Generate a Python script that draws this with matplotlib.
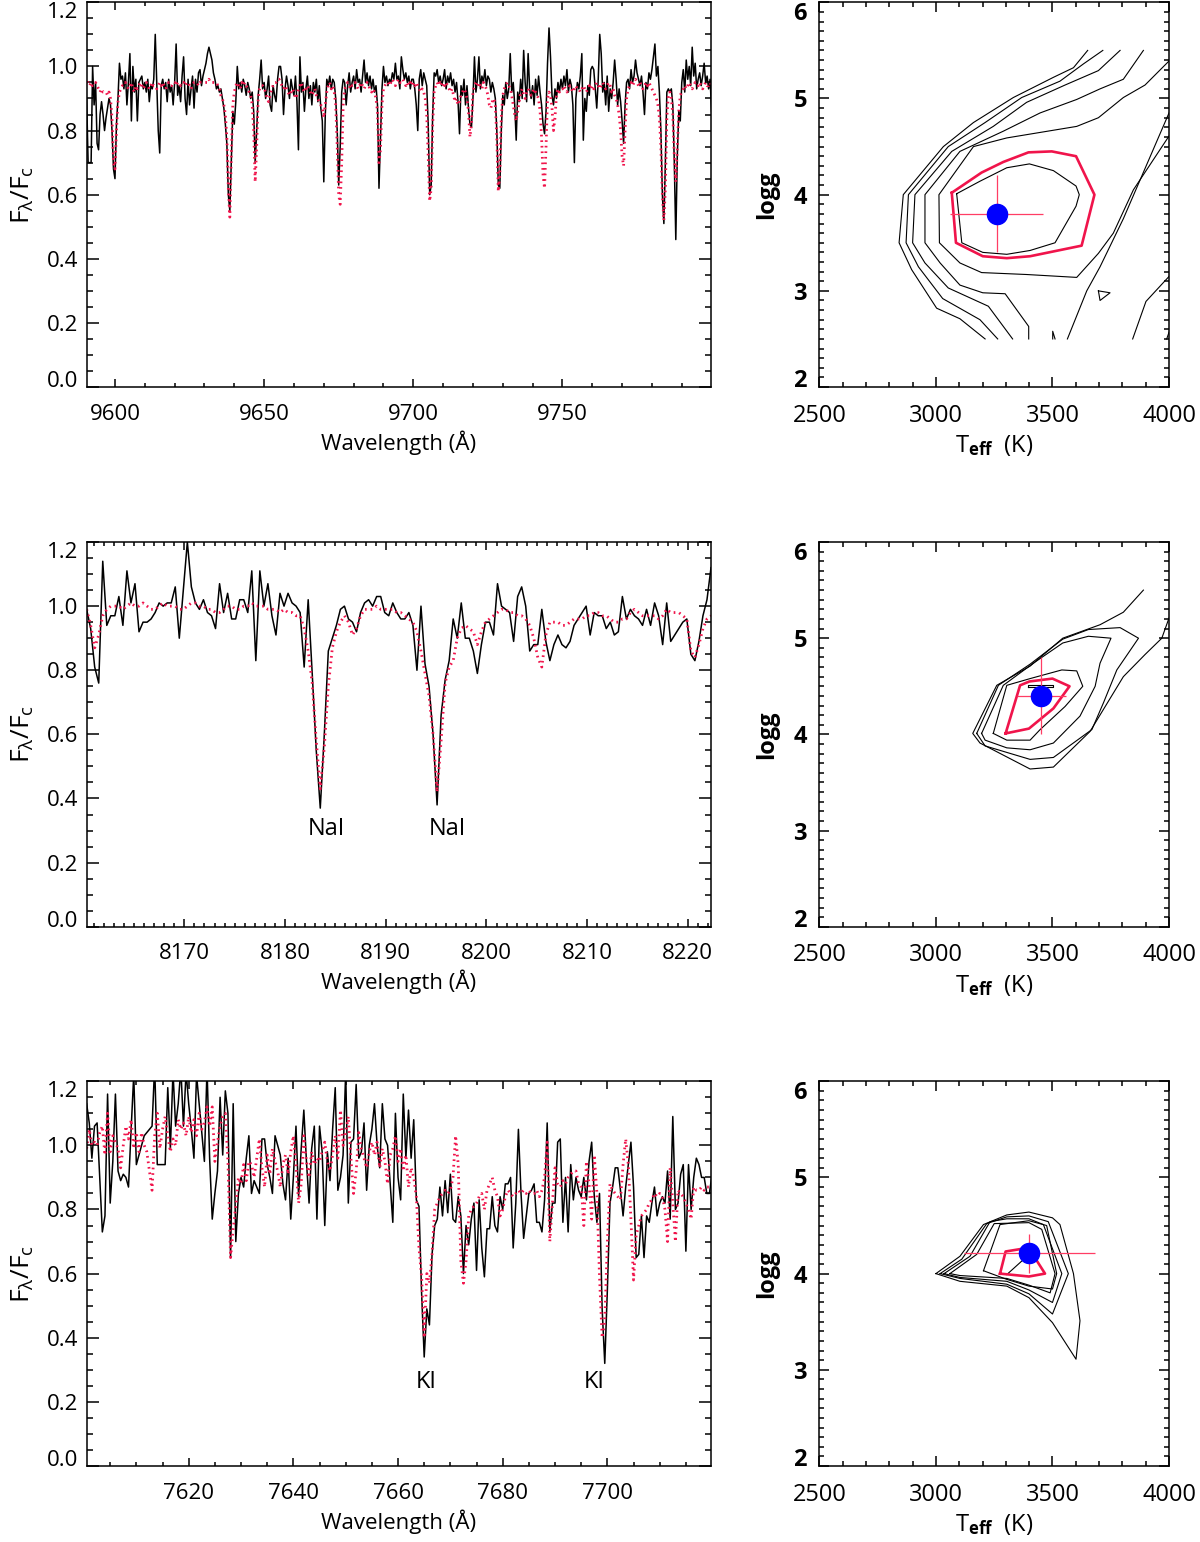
import numpy as np
import matplotlib
matplotlib.use("Agg")
import matplotlib.pyplot as plt
from matplotlib.ticker import MultipleLocator, FormatStrFormatter

plt.rcParams["font.family"] = ["Open Sans", "DejaVu Sans"]
plt.rcParams["mathtext.fontset"] = "custom"
plt.rcParams["mathtext.rm"] = "Open Sans"
plt.rcParams["mathtext.it"] = "Open Sans"
plt.rcParams["mathtext.bf"] = "Open Sans:bold"

RED = "#f0144b"
ERR_RED = "#ff3d64"

# ---- spectra: fluxes in percent of continuum, on a regular wavelength grid ----
w1_start, w1_step = 9590.5, 0.5
flux1_obs = [
    90, 70, 70, 70, 100, 88, 95, 76, 74, 85, 89, 85, 80, 84, 87, 90, 88, 80, 68,
    65, 82, 90, 101, 96, 97, 93, 98, 88, 95, 104, 83, 100, 92, 96, 83, 95, 96, 97, 93,
    95, 92, 96, 89, 94, 93, 96, 110, 95, 80, 73, 94, 96, 93, 95, 89, 96, 92, 94, 88,
    95, 107, 91, 94, 89, 97, 103, 90, 85, 96, 88, 93, 97, 87, 96, 92, 98, 99, 94, 97,
    99, 101, 104, 106, 104, 102, 98, 96, 93, 94, 92, 93, 90, 87, 82, 76, 60, 55, 70, 86,
    82, 89, 100, 93, 95, 92, 96, 94, 91, 95, 93, 90, 92, 86, 70, 80, 91, 96, 102, 93,
    95, 90, 93, 97, 88, 86, 94, 91, 89, 96, 100, 100, 96, 85, 93, 97, 94, 90, 96, 93,
    91, 97, 89, 74, 103, 92, 95, 86, 93, 97, 90, 94, 88, 95, 92, 96, 89, 94, 87, 83,
    64, 85, 96, 94, 97, 93, 96, 95, 90, 80, 63, 75, 92, 96, 95, 88, 94, 98, 92, 95,
    97, 93, 99, 95, 96, 92, 97, 102, 95, 98, 94, 97, 93, 96, 92, 94, 88, 62, 78, 93,
    100, 95, 97, 94, 96, 95, 98, 96, 101, 96, 97, 93, 103, 99, 96, 98, 95, 97, 93, 96,
    96, 93, 88, 80, 96, 99, 94, 98, 96, 94, 82, 60, 63, 85, 98, 97, 99, 95, 97, 94,
    96, 99, 93, 97, 95, 98, 94, 96, 92, 95, 89, 79, 94, 91, 96, 88, 94, 87, 82, 81,
    90, 103, 92, 96, 103, 93, 97, 95, 99, 94, 97, 96, 92, 95, 93, 90, 80, 63, 62, 80,
    91, 88, 95, 90, 93, 104, 92, 95, 88, 77, 92, 89, 96, 90, 105, 95, 89, 104, 93, 90,
    94, 88, 96, 91, 97, 92, 88, 82, 79, 86, 101, 112, 103, 91, 88, 93, 90, 95, 92, 96,
    93, 97, 94, 99, 92, 96, 94, 88, 70, 90, 95, 93, 97, 104, 77, 90, 86, 94, 91, 99,
    100, 99, 93, 87, 96, 110, 104, 92, 95, 88, 97, 86, 93, 90, 95, 102, 96, 88, 93, 89,
    83, 76, 88, 95, 96, 93, 99, 95, 97, 102, 98, 96, 94, 97, 92, 85, 95, 93, 98, 96,
    99, 103, 107, 97, 100, 92, 80, 60, 51, 70, 92, 93, 92, 93, 88, 70, 46, 72, 86, 83,
    95, 99, 92, 102, 96, 100, 94, 106, 97, 101, 93, 96, 98, 94, 97, 101, 95, 97, 93, 96, 86,
]
flux1_mod = [
    95, 95, 94, 95, 94, 94, 95, 94, 93, 92, 93, 92, 92, 92, 91, 92, 90, 84, 70,
    68, 80, 89, 92, 93, 94, 94, 95, 94, 93, 94, 95, 93, 92, 94, 93, 94, 95, 94, 93,
    94, 95, 94, 93, 94, 95, 94, 94, 93, 94, 95, 94, 95, 94, 93, 94, 95, 94, 94, 95,
    95, 94, 95, 95, 94, 95, 95, 94, 95, 95, 94, 93, 94, 95, 95, 95, 94, 95, 95, 95,
    95, 95, 95, 96, 95, 95, 95, 95, 95, 94, 93, 91, 90, 88, 85, 78, 62, 53, 72, 88,
    92, 94, 95, 94, 93, 95, 94, 95, 94, 93, 92, 91, 88, 80, 64, 75, 90, 93, 94, 94,
    93, 92, 90, 89, 91, 93, 94, 95, 95, 96, 96, 95, 94, 93, 94, 93, 92, 91, 92, 93,
    92, 90, 91, 93, 94, 95, 93, 92, 93, 94, 93, 92, 91, 92, 93, 91, 90, 89, 88, 87,
    84, 88, 92, 94, 95, 93, 94, 92, 88, 75, 60, 57, 70, 88, 93, 94, 95, 94, 93, 94,
    94, 95, 94, 93, 94, 95, 94, 93, 94, 95, 94, 93, 92, 93, 92, 90, 86, 70, 74, 88,
    93, 94, 95, 95, 94, 95, 96, 95, 94, 95, 96, 95, 95, 96, 95, 94, 95, 94, 95, 94,
    95, 94, 95, 94, 93, 92, 93, 92, 90, 85, 72, 58, 62, 82, 92, 94, 95, 94, 95, 94,
    95, 94, 95, 94, 93, 92, 93, 91, 89, 90, 88, 89, 91, 92, 93, 92, 90, 86, 78, 82,
    92, 94, 95, 94, 95, 94, 93, 95, 94, 93, 91, 88, 87, 89, 90, 88, 78, 61, 66, 84,
    91, 93, 94, 95, 94, 93, 91, 88, 85, 83, 86, 89, 92, 93, 91, 90, 92, 93, 92, 91,
    92, 93, 92, 91, 90, 86, 78, 66, 62, 75, 90, 92, 91, 87, 80, 84, 91, 93, 92, 93,
    93, 94, 93, 92, 93, 94, 93, 92, 93, 94, 93, 93, 92, 93, 94, 93, 92, 93, 94, 93,
    94, 93, 94, 95, 94, 93, 94, 95, 94, 93, 94, 95, 94, 92, 93, 91, 90, 88, 85, 80,
    72, 69, 80, 90, 93, 94, 95, 94, 95, 96, 95, 94, 95, 94, 93, 94, 95, 94, 95, 94,
    93, 92, 91, 90, 88, 84, 75, 60, 52, 62, 84, 91, 92, 90, 85, 72, 64, 74, 86, 91,
    92, 93, 94, 93, 94, 95, 94, 93, 94, 95, 94, 94, 95, 94, 93, 94, 95, 94, 94, 95, 94,
]

w2_start, w2_step = 8160.3, 0.4
flux2_obs = [
    99, 93, 81, 76, 114, 94, 97, 97, 103, 94, 111, 101, 107, 92, 95, 95, 96, 98, 101, 100,
    101, 101, 106, 90, 105, 120, 106, 101, 99, 102, 98, 97, 93, 107, 98, 104, 96, 96, 102, 102,
    98, 111, 83, 111, 100, 107, 97, 91, 104, 100, 104, 101, 100, 98, 81, 102, 79, 55, 37, 60,
    86, 90, 94, 99, 100, 96, 95, 92, 98, 101, 102, 100, 103, 103, 98, 97, 101, 98, 96, 96,
    98, 94, 80, 100, 82, 75, 60, 38, 66, 77, 83, 96, 90, 101, 90, 90, 86, 79, 88, 95,
    95, 91, 107, 100, 99, 98, 89, 103, 106, 100, 86, 88, 88, 99, 89, 83, 88, 91, 88, 87,
    89, 94, 96, 98, 100, 91, 98, 97, 97, 93, 95, 91, 92, 103, 96, 99, 97, 96, 94, 99,
    94, 101, 97, 88, 101, 89, 91, 93, 95, 96, 85, 83, 89, 97, 102, 112,
]
flux2_mod = [
    99, 94, 87, 91, 97, 99, 100, 100, 100, 99, 100, 101, 100, 100, 101, 100, 99, 99, 100, 101,
    100, 100, 100, 99, 99, 100, 101, 101, 100, 100, 99, 99, 98, 98, 99, 100, 100, 99, 99, 100,
    100, 101, 100, 100, 100, 99, 99, 99, 98, 99, 98, 98, 97, 97, 93, 86, 76, 58, 43, 56,
    75, 87, 92, 95, 97, 95, 91, 93, 97, 99, 99, 99, 100, 99, 99, 99, 99, 98, 98, 97,
    96, 95, 92, 86, 79, 72, 60, 42, 58, 76, 81, 83, 90, 93, 94, 93, 92, 88, 92, 95,
    96, 97, 98, 99, 99, 98, 98, 97, 97, 96, 94, 90, 84, 81, 91, 95, 95, 95, 94, 94,
    95, 96, 96, 96, 97, 97, 98, 98, 97, 97, 96, 95, 95, 96, 96, 98, 99, 98, 97, 97,
    97, 97, 96, 97, 99, 98, 98, 98, 97, 96, 86, 84, 88, 93, 96, 97,
]

w3_start, w3_step = 7600.5, 0.5
flux3_obs = [
    113, 107, 96, 106, 107, 90, 73, 78, 116, 82, 95, 116, 92, 89, 91, 90, 87, 105, 122, 94,
    97, 100, 103, 104, 105, 106, 125, 94, 94, 94, 94, 118, 99, 123, 106, 113, 124, 106, 123, 113,
    105, 96, 122, 113, 104, 95, 124, 96, 77, 85, 92, 115, 97, 117, 110, 65, 113, 70, 85, 90,
    87, 96, 103, 85, 89, 87, 85, 102, 102, 94, 90, 85, 103, 100, 97, 88, 83, 96, 77, 90,
    106, 84, 99, 111, 95, 82, 99, 106, 77, 106, 98, 75, 98, 89, 105, 118, 86, 90, 97, 123,
    82, 101, 102, 119, 96, 98, 107, 86, 100, 105, 113, 100, 93, 113, 102, 100, 88, 76, 110, 90,
    83, 116, 96, 111, 96, 108, 83, 81, 54, 34, 49, 44, 66, 75, 77, 87, 78, 89, 79, 91,
    77, 76, 84, 78, 60, 75, 69, 77, 82, 61, 83, 68, 59, 74, 74, 84, 75, 73, 84, 80,
    88, 88, 90, 68, 82, 105, 85, 71, 78, 85, 86, 88, 76, 76, 73, 83, 107, 73, 82, 82,
    101, 102, 76, 90, 73, 94, 83, 90, 86, 84, 90, 83, 95, 101, 84, 76, 85, 49, 32, 55,
    82, 87, 93, 93, 86, 78, 87, 94, 101, 87, 65, 66, 78, 65, 78, 76, 82, 87, 78, 82,
    84, 82, 92, 77, 109, 80, 82, 91, 94, 67, 94, 80, 90, 96, 94, 90, 90, 85, 85, 91,
]
flux3_mod = [
    99, 105, 100, 101, 100, 104, 106, 97, 110, 98, 103, 101, 99, 93, 100, 106, 102, 108, 99, 104,
    98, 104, 100, 98, 92, 86, 103, 110, 99, 105, 109, 103, 98, 102, 100, 108, 105, 107, 103, 109,
    104, 108, 103, 110, 105, 107, 112, 106, 112, 95, 101, 106, 109, 110, 95, 65, 74, 81, 90, 88,
    94, 89, 95, 94, 90, 96, 102, 93, 87, 97, 91, 99, 95, 92, 87, 94, 97, 91, 98, 103,
    94, 82, 88, 103, 95, 90, 98, 94, 96, 95, 98, 101, 95, 92, 97, 103, 96, 111, 100, 104,
    109, 96, 85, 92, 104, 99, 96, 93, 98, 101, 97, 101, 93, 99, 95, 88, 97, 99, 103, 95,
    99, 92, 97, 87, 93, 90, 84, 68, 59, 40, 60, 57, 66, 80, 82, 84, 85, 86, 85, 86,
    90, 103, 94, 64, 57, 64, 78, 80, 81, 82, 84, 85, 80, 86, 88, 90, 86, 84, 78, 80,
    84, 86, 85, 84, 85, 86, 85, 86, 85, 86, 85, 85, 86, 84, 86, 90, 101, 70, 82, 93,
    88, 87, 89, 88, 90, 91, 92, 92, 88, 87, 75, 95, 88, 77, 97, 85, 59, 40, 45, 70,
    88, 86, 85, 84, 83, 94, 102, 94, 77, 58, 72, 75, 78, 79, 80, 82, 83, 85, 84, 85,
    84, 80, 70, 93, 82, 70, 86, 85, 84, 82, 80, 77, 87, 86, 86, 87, 86, 87, 87, 87,
]

spec_xlims = [(9590.5, 9799.8), (8160.3, 8222.3), (7600.5, 7719.8)]
spec_major = [50, 10, 20]
spec_minor = [10, 1, 5]
spec_yticks = [0.0, 0.2, 0.4, 0.6, 0.8, 1.0, 1.2]
line_labels = [[], [("NaI", 8184.1, 0.306), ("NaI", 8196.1, 0.306)],
               [("KI", 7665.3, 0.262), ("KI", 7697.4, 0.262)]]

# ---- chi2 contour maps (Teff [K], logg) traced as polylines ----
top_red = [(3068, 4.02), (3086, 3.50), (3201, 3.36), (3304, 3.34), (3404, 3.36), (3625, 3.47),
           (3680, 4.00), (3601, 4.40), (3497, 4.45), (3397, 4.44), (3289, 4.34), (3196, 4.23),
           (3068, 4.02)]
top_black = [
    [(3089, 4.01), (3111, 3.50), (3201, 3.40), (3304, 3.38), (3404, 3.42), (3511, 3.50),
     (3601, 3.88), (3615, 4.00), (3601, 4.09), (3504, 4.25), (3401, 4.32), (3304, 4.28),
     (3189, 4.14), (3089, 4.01)],
    [(3651, 5.50), (3590, 5.32), (3504, 5.22), (3332, 5.01), (3161, 4.75), (3032, 4.50),
     (2860, 4.00), (2842, 3.50), (2896, 3.22), (3003, 2.82), (3103, 2.71), (3211, 2.50)],
    [(3716, 5.50), (3633, 5.36), (3532, 5.18), (3368, 5.01), (3211, 4.75), (3053, 4.50),
     (2882, 4.00), (2872, 3.50), (2925, 3.25), (3029, 2.92), (3189, 2.70), (3265, 2.50)],
    [(3790, 5.50), (3697, 5.29), (3554, 5.14), (3389, 4.96), (3246, 4.71), (3068, 4.45),
     (2910, 4.00), (2900, 3.50), (2953, 3.29), (3053, 3.03), (3225, 2.84), (3329, 2.50)],
    [(3890, 5.50), (3804, 5.20), (3704, 5.10), (3604, 4.99), (3447, 4.85), (3289, 4.66),
     (3103, 4.45), (2953, 4.00), (2953, 3.50), (3018, 3.29), (3103, 3.06), (3201, 2.98),
     (3297, 2.97), (3398, 2.63), (3398, 2.50)],
    [(4000, 5.39), (3897, 5.14), (3804, 5.01), (3697, 4.80), (3604, 4.71), (3304, 4.59),
     (3161, 4.50), (3013, 4.00), (3015, 3.50), (3103, 3.29), (3196, 3.19), (3389, 3.17),
     (3604, 3.14), (3697, 3.39), (3761, 3.60), (3847, 4.05), (4000, 4.61)],
    [(3564, 2.50), (3647, 3.00), (3704, 3.25), (3804, 3.75), (4000, 4.85)],
    [(3844, 2.50), (3901, 2.89), (4000, 3.15)],
    [(3697, 3.00), (3747, 2.98), (3704, 2.90), (3697, 3.00)],
    [(3501, 2.50), (3501, 2.58), (3511, 2.50)],
    [(3990, 2.50), (4000, 2.57)],
]

mid_red = [(3299, 4.01), (3399, 4.06), (3504, 4.27), (3573, 4.50), (3500, 4.58), (3401, 4.55),
           (3361, 4.51), (3299, 4.01)]
mid_black = [
    [(3397, 4.49), (3397, 4.515), (3504, 4.515), (3504, 4.49), (3397, 4.49)],
    [(3246, 4.01), (3304, 4.51), (3404, 4.58), (3540, 4.67), (3604, 4.66), (3630, 4.50),
     (3554, 4.29), (3447, 4.05), (3404, 3.94), (3304, 3.94), (3246, 4.01)],
    [(3196, 4.01), (3289, 4.51), (3418, 4.74), (3544, 4.95), (3654, 5.02), (3751, 5.00),
     (3704, 4.74), (3683, 4.50), (3618, 4.19), (3504, 3.91), (3404, 3.84), (3304, 3.86),
     (3211, 3.94), (3196, 4.01)],
    [(3175, 4.01), (3268, 4.51), (3404, 4.73), (3544, 4.99), (3654, 5.09), (3790, 5.11),
     (3869, 5.00), (3776, 4.67), (3719, 4.33), (3669, 4.05), (3504, 3.76), (3404, 3.74),
     (3211, 3.88), (3175, 4.01)],
    [(4000, 5.21), (3969, 5.00), (3897, 4.83), (3804, 4.60), (3661, 4.03), (3504, 3.66),
     (3404, 3.64), (3189, 3.91), (3158, 4.01), (3261, 4.51), (3404, 4.71), (3544, 5.00),
     (3704, 5.14), (3804, 5.27), (3890, 5.50)],
]

low_red = [(3275, 4.00), (3299, 4.23), (3375, 4.26), (3418, 4.19), (3468, 4.00), (3399, 3.97),
           (3275, 4.00)]
low_black = [
    [(3304, 3.99), (3368, 4.13)],
    [(3204, 4.03), (3275, 4.51), (3399, 4.55), (3475, 4.50), (3518, 4.00), (3500, 3.84),
     (3399, 3.87), (3304, 3.94), (3204, 4.03)],
    [(3060, 4.00), (3175, 4.20), (3250, 4.52), (3399, 4.53), (3454, 4.46), (3511, 4.00),
     (3490, 3.80), (3399, 3.88), (3304, 3.95), (3103, 3.98), (3060, 4.00)],
    [(3035, 4.00), (3146, 4.18), (3232, 4.54), (3304, 4.57), (3399, 4.57), (3461, 4.51),
     (3540, 4.00), (3500, 3.70), (3399, 3.83), (3304, 3.92), (3103, 3.96), (3035, 4.00)],
    [(3018, 4.00), (3111, 4.15), (3218, 4.52), (3304, 4.59), (3399, 4.60), (3482, 4.54),
     (3568, 4.00), (3500, 3.58), (3399, 3.79), (3304, 3.89), (3103, 3.95), (3018, 4.00)],
    [(3000, 4.00), (3103, 4.18), (3204, 4.51), (3304, 4.61), (3399, 4.64), (3500, 4.58),
     (3532, 4.51), (3590, 4.00), (3618, 3.51), (3601, 3.11), (3500, 3.49), (3399, 3.75),
     (3304, 3.87), (3103, 3.92), (3000, 4.00)],
]

fit_teff = [3261, 3451, 3401]
fit_teff_err = [200, 105, 280]
fit_logg = [3.80, 4.40, 4.21]
fit_logg_err = [0.40, 0.40, 0.20]

grid_yticks = [2, 3, 4, 5, 6]
grid_ylabels = ["2", "3", "4", "5", "6"]

contour_reds = [top_red, mid_red, low_red]
contour_blacks = [top_black, mid_black, low_black]


def pull_in_end_labels(axis):
    # the end labels sit inside the frame, like the original plot
    ticks = axis.get_major_ticks()
    ticks[0].label1.set_verticalalignment("baseline")
    ticks[-1].label1.set_verticalalignment("top")


fig = plt.figure(figsize=(12, 15.42), dpi=100)
row_bottoms = [0.749, 0.399, 0.0493]
spectra = [
    (w1_start, w1_step, flux1_obs, flux1_mod),
    (w2_start, w2_step, flux2_obs, flux2_mod),
    (w3_start, w3_step, flux3_obs, flux3_mod),
]

for i, b in enumerate(row_bottoms):
    # spectrum panel
    ax = fig.add_axes([0.0722, b, 0.5203, 0.2495])
    start, step, obs, mod = spectra[i]
    wo = start + step * np.arange(len(obs))
    wm = start + step * np.arange(len(mod))
    ax.plot(wo, np.array(obs) / 100.0, color="black", lw=1.1)
    ax.plot(wm, np.array(mod) / 100.0, color=RED, lw=2.0, ls=(0, (0.6, 1.4)))
    for txt, x, y in line_labels[i]:
        ax.text(x, y, txt, ha="center", va="center", fontsize=17)
    ax.set_xlim(*spec_xlims[i])
    ax.set_ylim(0, 1.2)
    ax.xaxis.set_major_locator(MultipleLocator(spec_major[i]))
    ax.xaxis.set_minor_locator(MultipleLocator(spec_minor[i]))
    ax.set_yticks(spec_yticks)
    ax.yaxis.set_minor_locator(MultipleLocator(0.05))
    ax.yaxis.set_major_formatter(FormatStrFormatter("%.1f"))
    ax.tick_params(which="both", direction="in", top=True, right=True, width=1.1)
    ax.tick_params(axis="y", which="major", length=8.5, pad=6, labelsize=16)
    ax.tick_params(axis="y", which="minor", length=4.3)
    ax.tick_params(axis="x", which="major", length=5.8, pad=12, labelsize=16)
    ax.tick_params(axis="x", which="minor", length=2.9)
    for s in ax.spines.values():
        s.set_linewidth(1.1)
    ax.set_xlabel("Wavelength (Å)", fontsize=16, labelpad=4)
    ax.set_ylabel(r"F$_\lambda$/F$_{\rm c}$", fontsize=19, labelpad=8)
    pull_in_end_labels(ax.yaxis)

    # chi2 map panel
    cx = fig.add_axes([0.6828, b, 0.2914, 0.2495])
    for poly in contour_blacks[i]:
        t, g = zip(*poly)
        cx.plot(t, g, color="black", lw=0.8)
    t, g = zip(*contour_reds[i])
    cx.plot(t, g, color=RED, lw=1.9)
    cx.errorbar(fit_teff[i], fit_logg[i], xerr=fit_teff_err[i], yerr=fit_logg_err[i],
                fmt="none", ecolor=ERR_RED, elinewidth=0.9, capsize=0)
    cx.plot(fit_teff[i], fit_logg[i], "o", color="#0000ff", ms=14.5, mec="#0000ff")
    cx.set_xlim(2500, 4000)
    cx.set_ylim(2, 6)
    cx.xaxis.set_major_locator(MultipleLocator(500))
    cx.xaxis.set_minor_locator(MultipleLocator(100))
    cx.set_yticks(grid_yticks)
    cx.set_yticklabels(grid_ylabels, fontweight="bold")
    cx.yaxis.set_minor_locator(MultipleLocator(0.1))
    cx.tick_params(which="both", direction="in", top=True, right=True, width=1.1)
    cx.tick_params(which="major", length=7, labelsize=17)
    cx.tick_params(which="minor", length=3.5)
    cx.tick_params(axis="x", which="major", pad=12)
    cx.tick_params(axis="y", which="major", pad=9)
    for s in cx.spines.values():
        s.set_linewidth(1.1)
    cx.set_xlabel(r"T$_{\mathbf{eff}}$  (K)", fontsize=17, labelpad=4)
    cx.set_ylabel("logg", fontsize=17, fontweight="bold", labelpad=10)
    pull_in_end_labels(cx.yaxis)

fig.savefig("out.png", dpi=100)
